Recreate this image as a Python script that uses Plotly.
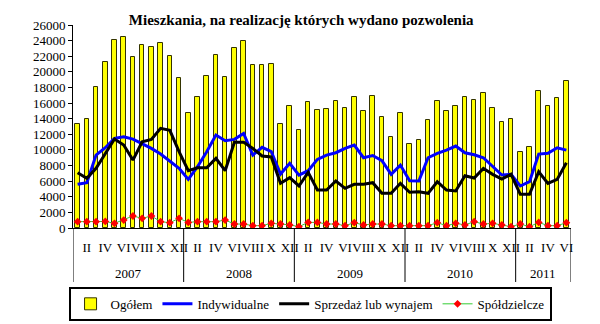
import plotly.graph_objects as go

# Monthly dwellings with building permits, Jan 2007 - Jun 2011
years = ["2007", "2008", "2009", "2010", "2011"]
months = ["I", "II", "III", "IV", "V", "VI", "VII", "VIII", "IX", "X", "XI", "XII"]
months_per_year = [12, 12, 12, 12, 6]

ogolem = [13270, 13910, 18010, 21250, 24060, 24400, 21890, 23470, 23210, 23680, 22050, 19200,
          14680, 16730, 19460, 22190, 19330, 23040, 23980, 20900, 20900, 21030, 13270, 15570,
          12500, 16090, 15060, 15190, 16210, 15400, 16720, 14980, 16850, 14160, 11600, 14680,
          10710, 11220, 13820, 16260, 14980, 15620, 16720, 16380, 17280, 15320, 13530, 13910,
          9690, 10330, 17540, 15620, 16640, 18770]

indywidualne = [5590, 5800, 9340, 10280, 11480, 11690, 11390, 10840, 10200, 9470, 8600, 7640,
                6230, 7850, 9770, 11900, 11180, 11350, 12120, 9340, 10330, 9770, 6910, 8280,
                6780, 7340, 8790, 9340, 9640, 10200, 10620, 9000, 9280, 8620, 6870, 8060,
                6060, 6020, 9000, 9560, 9980, 10500, 9640, 9380, 9000, 7850, 6780, 6870,
                5380, 5930, 9470, 9560, 10280, 9980]

sprzedaz = [7080, 6360, 7640, 9560, 11390, 10620, 8700, 11050, 11350, 12760, 12500, 9770,
            7340, 7720, 7720, 8920, 7340, 10970, 10970, 10200, 9220, 9100, 5720, 6440,
            5380, 7130, 4860, 4860, 6020, 5080, 5590, 5590, 5800, 4440, 4440, 5720,
            4570, 4650, 4440, 5930, 4860, 4740, 6700, 6400, 7640, 6870, 6270, 6870,
            4310, 4310, 7210, 5720, 6230, 8360]

spoldzielcze = [810, 810, 810, 840, 600, 1020, 1540, 1240, 1540, 810, 680, 1240,
                720, 810, 810, 810, 1020, 510, 510, 300, 300, 600, 510, 400,
                170, 720, 720, 510, 510, 300, 680, 400, 510, 510, 300, 300,
                300, 300, 300, 680, 300, 600, 400, 810, 510, 600, 400, 170,
                510, 170, 720, 300, 300, 680]

shown_months = ["II", "IV", "VI", "VIII", "X", "XII"]

# month index along the axis and its label
x = []
month_of = []
for n in months_per_year:
    for m in range(n):
        x.append(len(x))
        month_of.append(months[m])

tickvals = [i for i in x if month_of[i] in shown_months]
ticktext = [month_of[i] for i in tickvals]

serif = "Times New Roman, Liberation Serif, serif"

fig = go.Figure()
fig.add_trace(go.Bar(x=x, y=ogolem, name="Ogółem", width=0.5,
                     marker=dict(color="#FFFF00", line=dict(color="#333300", width=1))))
fig.add_trace(go.Scatter(x=x, y=indywidualne, name="Indywidualne", mode="lines",
                         line=dict(color="#0000FF", width=3)))
fig.add_trace(go.Scatter(x=x, y=sprzedaz, name="Sprzedaż lub wynajem", mode="lines",
                         line=dict(color="#000000", width=3)))
fig.add_trace(go.Scatter(x=x, y=spoldzielcze, name="Spółdzielcze", mode="lines+markers",
                         line=dict(color="#33CC33", width=1),
                         marker=dict(symbol="diamond", size=6, color="#FF0000")))

# year group separators and labels beneath the month labels
bounds = [-0.5]
for n in months_per_year:
    bounds.append(bounds[-1] + n)
for b in bounds:
    fig.add_shape(type="line", xref="x", yref="paper", x0=b, x1=b, y0=0, y1=-0.266,
                  line=dict(color="black", width=1))
for k, yr in enumerate(years):
    fig.add_annotation(x=(bounds[k] + bounds[k + 1]) / 2, y=0, xref="x", yref="paper",
                       text=yr, showarrow=False, yanchor="middle", yshift=-45,
                       font=dict(family=serif, size=13, color="black"))

fig.update_layout(
    width=600, height=324,
    margin=dict(l=73, r=29, t=25, b=96, autoexpand=False),
    paper_bgcolor="white", plot_bgcolor="white",
    title=dict(text="<b>Mieszkania, na realizację których wydano pozwolenia</b>",
               x=0.502, xanchor="center", y=0.94, yanchor="middle",
               font=dict(family=serif, size=15, color="black")),
    font=dict(family=serif, size=13, color="black"),
    bargap=0,
    showlegend=True,
    legend=dict(orientation="h", x=0.476, xanchor="center", y=-0.29, yanchor="top",
                bordercolor="black", borderwidth=2,
                font=dict(family=serif, size=13, color="black"),
                traceorder="normal", itemwidth=30, tracegroupgap=0),
)
fig.update_xaxes(range=[-0.5, len(x) - 0.5], tickmode="array", tickvals=tickvals,
                 ticktext=ticktext, tickangle=0, automargin=False,
                 showgrid=False, zeroline=False, showline=True,
                 linecolor="black", linewidth=1, ticks="", ticklabelstandoff=7,
                 tickfont=dict(family=serif, size=13, color="black"))
fig.update_yaxes(range=[0, 26000], dtick=2000, showgrid=False, zeroline=False,
                 automargin=False,
                 showline=True, linecolor="black", linewidth=1, ticks="outside",
                 ticklen=4, tickcolor="black", tickformat="d",
                 tickfont=dict(family=serif, size=13, color="black"))

fig.write_html("out.html")
